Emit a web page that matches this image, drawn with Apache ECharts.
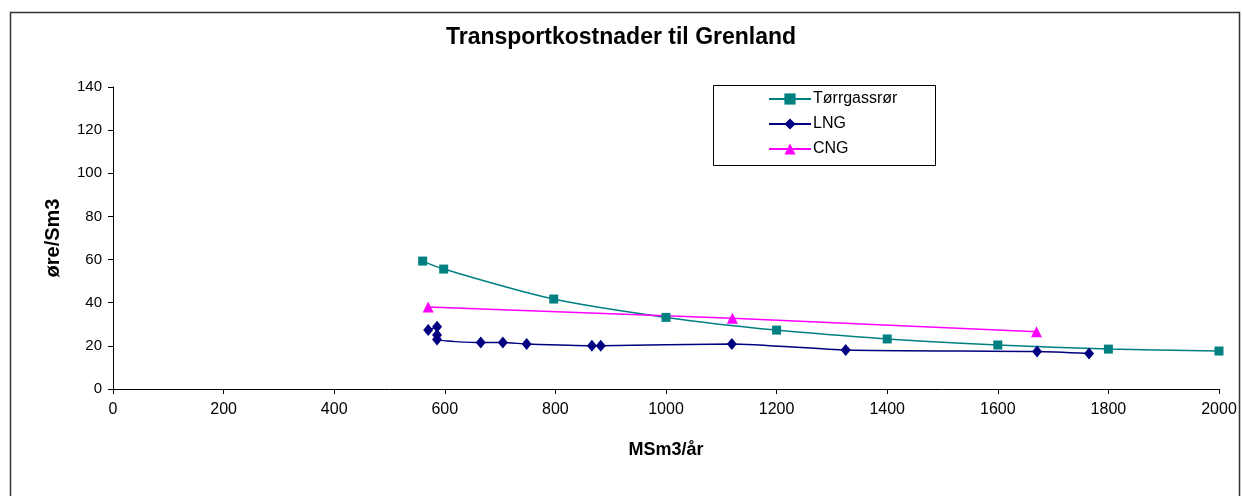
<!DOCTYPE html>
<html lang="no">
<head>
    <meta charset="UTF-8">
    <title>Transportkostnader til Grenland</title>
    <script src="https://cdn.jsdelivr.net/npm/echarts@6.0.0/dist/echarts.min.js"></script>
    <style>
        html, body { margin: 0; padding: 0; background: #fff; }
        #chart { width: 1242px; height: 496px; }
    </style>
</head>
<body>
<div id="chart"></div>
<script>
// Data lest av figuren
const seriesNames = ['Tørrgassrør', 'LNG', 'CNG'];

const torrX = [560, 598, 797, 1000, 1200, 1400, 1600, 1800, 2000];
const torrY = [59.3, 55.6, 41.7, 33.2, 27.3, 23.2, 20.4, 18.5, 17.6];

const lngX = [570, 586, 586, 586, 665, 705, 748, 866, 882, 1119, 1325, 1671, 1765];
const lngY = [27.3, 28.8, 25.0, 22.9, 21.5, 21.5, 20.9, 20.1, 20.1, 20.9, 18.1, 17.4, 16.5];

const cngX = [570, 1120, 1670];
const cngY = [38.0, 32.8, 26.5];

const xTicks = { min: 0, max: 2000, interval: 200 };
const yTicks = { min: 0, max: 140, interval: 20 };

const colors = ['#008080', '#000080', '#ff00ff'];

function pairs(xs, ys) {
    return xs.map((x, i) => [x, ys[i]]);
}

const chart = echarts.init(document.getElementById('chart'));
const font = 'Liberation Sans, Arial, sans-serif';

chart.setOption({
    animation: false,
    backgroundColor: '#fff',
    textStyle: { fontFamily: font, color: '#000' },
    title: {
        text: 'Transportkostnader til Grenland',
        left: 'center',
        top: 26,
        padding: 0,
        textStyle: { fontFamily: font, fontSize: 23, fontWeight: 'bold', color: '#000' }
    },
    graphic: [
        // ramme rundt diagrammet
        { type: 'rect', shape: { x: 10.5, y: 12.5, width: 1229, height: 500 },
          style: { fill: 'none', stroke: '#333', lineWidth: 1.5 }, silent: true },
        // ramme rundt forklaringen
        { type: 'rect', shape: { x: 713.5, y: 85.5, width: 222, height: 80 },
          style: { fill: '#fff', stroke: '#000', lineWidth: 1 }, silent: true, z: 0 }
    ],
    legend: {
        data: seriesNames,
        orient: 'vertical',
        left: 768,
        top: 91,
        padding: 0,
        itemWidth: 42,
        itemHeight: 14,
        itemGap: 9,
        z: 10,
        textStyle: { fontFamily: font, fontSize: 16, color: '#000', padding: [0, 0, 0, -3] }
    },
    grid: { left: 113, right: 23, top: 87, bottom: 107 },
    xAxis: {
        type: 'value',
        min: xTicks.min,
        max: xTicks.max,
        interval: xTicks.interval,
        name: 'MSm3/år',
        nameLocation: 'middle',
        nameGap: 52,
        nameTextStyle: { fontFamily: font, fontSize: 18, fontWeight: 'bold', color: '#000' },
        axisLine: { lineStyle: { color: '#000', width: 1 } },
        axisTick: { inside: false, length: 5, lineStyle: { color: '#000' } },
        axisLabel: { margin: 13, fontSize: 16, color: '#000', fontFamily: font,
                     formatter: v => String(v) },
        splitLine: { show: false }
    },
    yAxis: {
        type: 'value',
        min: yTicks.min,
        max: yTicks.max,
        interval: yTicks.interval,
        name: 'øre/Sm3',
        nameLocation: 'middle',
        nameRotate: 90,
        nameGap: 50,
        nameTextStyle: { fontFamily: font, fontSize: 20, fontWeight: 'bold', color: '#000' },
        axisLine: { show: true, lineStyle: { color: '#000', width: 1 } },
        axisTick: { show: true, inside: false, length: 5, lineStyle: { color: '#000' } },
        axisLabel: { margin: 11, fontSize: 15, color: '#000', fontFamily: font },
        splitLine: { show: false }
    },
    series: [
        {
            name: seriesNames[0],
            type: 'line',
            data: pairs(torrX, torrY),
            smooth: 0.3,
            color: colors[0],
            lineStyle: { width: 1.5 },
            symbol: 'rect',
            symbolSize: 9,
            itemStyle: { color: colors[0] }
        },
        {
            name: seriesNames[1],
            type: 'line',
            data: pairs(lngX, lngY),
            smooth: 0.2,
            color: colors[1],
            lineStyle: { width: 1.5 },
            symbol: 'diamond',
            symbolSize: [10, 12],
            itemStyle: { color: colors[1] }
        },
        {
            name: seriesNames[2],
            type: 'line',
            data: pairs(cngX, cngY),
            color: colors[2],
            lineStyle: { width: 1.5 },
            symbol: 'triangle',
            symbolSize: 11,
            itemStyle: { color: colors[2] }
        }
    ]
});
</script>
</body>
</html>
